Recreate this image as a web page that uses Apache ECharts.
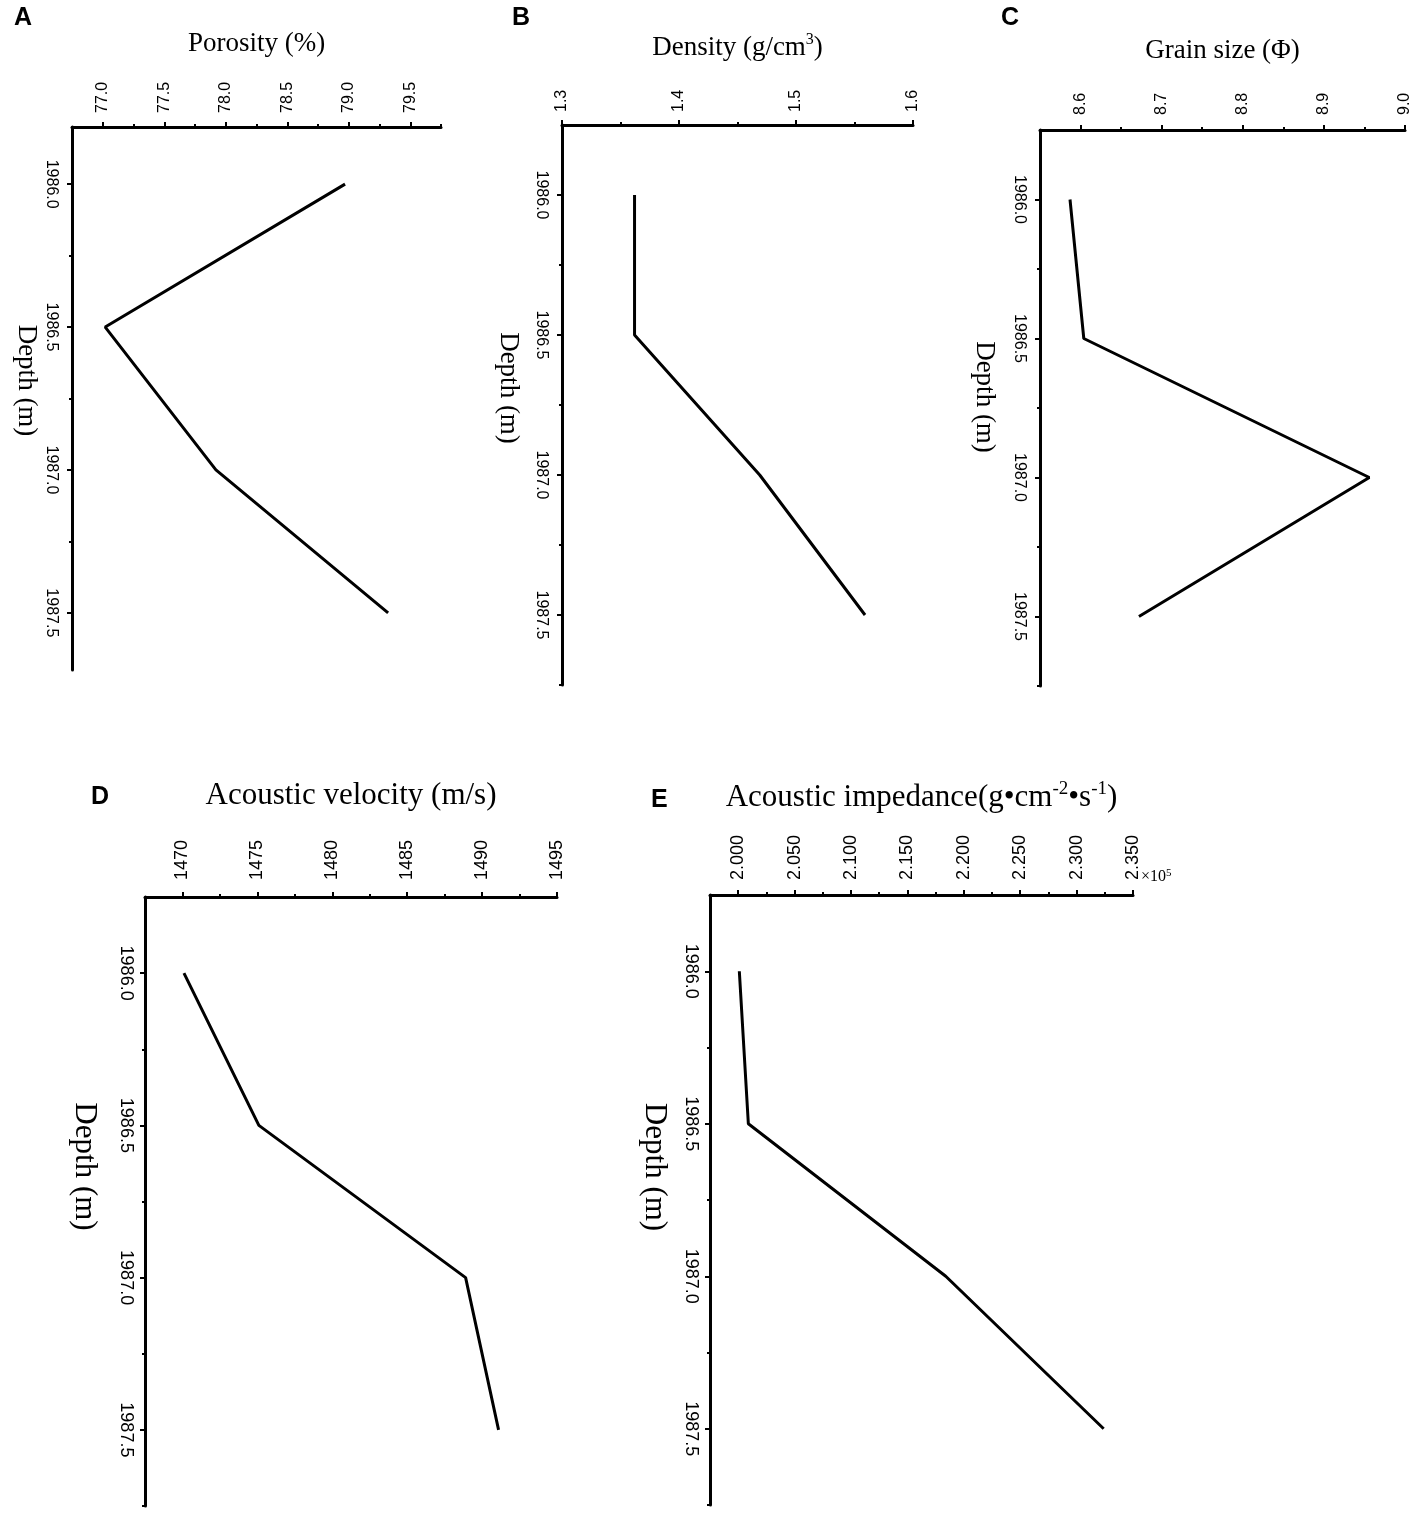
<!DOCTYPE html>
<html>
<head>
<meta charset="utf-8">
<script src="https://cdn.jsdelivr.net/npm/echarts@6/dist/echarts.min.js"></script>
<style>
html,body{margin:0;padding:0;background:#fff;}
#chart{width:1417px;height:1518px;}
</style>
</head>
<body>
<div id="chart"></div>
<script>
// ---- data ----
const depth = [1986.0, 1986.5, 1987.0, 1987.5];
const porosity = [78.97, 77.02, 77.92, 79.32];
const density = [1.362, 1.362, 1.469, 1.559];
const grainSize = [8.587, 8.604, 8.956, 8.672];
const velocity = [1470.1, 1475.1, 1488.9, 1491.1];
const impedance = [2.001, 2.009, 2.184, 2.324];

const depthTicks = [1986.0, 1986.5, 1987.0, 1987.5];
const depthMinorTicksA = [1986.25, 1986.75, 1987.25];
const depthMinorTicks = [1986.25, 1986.75, 1987.25, 1987.75];
const porosityTicks = [77.0, 77.5, 78.0, 78.5, 79.0, 79.5];
const porosityMinor = [77.25, 77.75, 78.25, 78.75, 79.25, 79.75];
const densityTicks = [1.3, 1.4, 1.5, 1.6];
const densityMinor = [1.35, 1.45, 1.55];
const grainTicks = [8.6, 8.7, 8.8, 8.9, 9.0];
const grainMinor = [8.65, 8.75, 8.85, 8.95];
const velocityTicks = [1470, 1475, 1480, 1485, 1490, 1495];
const velocityMinor = [1472.5, 1477.5, 1482.5, 1487.5, 1492.5];
const impedanceTicks = [2.000, 2.050, 2.100, 2.150, 2.200, 2.250, 2.300, 2.350];
const impedanceMinor = [2.025, 2.075, 2.125, 2.175, 2.225, 2.275, 2.325];

const panelLetters = ['A', 'B', 'C', 'D', 'E'];

// ---- layout / style ----
const SANS = 'Liberation Sans, Arial, sans-serif';
const SERIF = 'Liberation Serif, Times New Roman, serif';

const panels = [
  { values: porosity, grid: {left: 72, top: 127, width: 369, height: 543},
    xmin: 76.75, xmax: 79.75, xt: porosityTicks, xm: porosityMinor, dec: 1,
    ymin: 1985.8, ymax: 1987.7, ym: depthMinorTicksA,
    name: 'Porosity (%)', nameGap: 70, nameSize: 27, labelSize: 16, xMargin: 14, yMargin: 13,
    yNameGap: 32, yNameShift: 36, letter: {x: 14, y: 6} },
  { values: density, grid: {left: 562, top: 125, width: 351, height: 560},
    xmin: 1.3, xmax: 1.6, xt: densityTicks, xm: densityMinor, dec: 1,
    ymin: 1985.75, ymax: 1987.75, ym: depthMinorTicks,
    name: '{a|Density (g/cm}{s|3}{a|)}', nameGap: 62, nameSize: 27, labelSize: 16, xMargin: 13, yMargin: 13,
    yNameGap: 40, yNameShift: 34, letter: {x: 512, y: 6} },
  { values: grainSize, grid: {left: 1040, top: 130, width: 365, height: 556},
    xmin: 8.55, xmax: 9.0, xt: grainTicks, xm: grainMinor, dec: 1,
    ymin: 1985.75, ymax: 1987.75, ym: depthMinorTicks,
    name: 'Grain size (\u03A6)', nameGap: 66, nameSize: 27, labelSize: 16, xMargin: 15, yMargin: 13,
    yNameGap: 42, yNameShift: 22, letter: {x: 1001, y: 6} },
  { values: velocity, grid: {left: 145, top: 897, width: 412, height: 609},
    xmin: 1467.5, xmax: 1495, xt: velocityTicks, xm: velocityMinor, dec: 0,
    ymin: 1985.75, ymax: 1987.75, ym: depthMinorTicks,
    name: 'Acoustic velocity (m/s)', nameGap: 86, nameSize: 31, labelSize: 18, xMargin: 17, yMargin: 10,
    yNameGap: 45, yNameShift: 70, letter: {x: 91, y: 785} },
  { values: impedance, grid: {left: 710, top: 895, width: 423, height: 610},
    xmin: 1.975, xmax: 2.35, xt: impedanceTicks, xm: impedanceMinor, dec: 3,
    ymin: 1985.75, ymax: 1987.75, ym: depthMinorTicks,
    name: '{a|Acoustic impedance(g\u2022cm}{s|-2}{a|\u2022s}{s|-1}{a|)}', nameGap: 80, nameSize: 31, labelSize: 18, xMargin: 15, yMargin: 10,
    yNameGap: 40, yNameShift: 66, letter: {x: 651, y: 788} }
];

const grid = [], xAxis = [], yAxis = [], series = [], graphic = [];

panels.forEach((p, i) => {
  grid.push(Object.assign({containLabel: false}, p.grid));
  const lineStyle = {color: '#000', width: 3};
  const tickStyle = {color: '#000', width: 2};
  // main x axis
  xAxis.push({
    gridIndex: i, type: 'value', position: 'top', min: p.xmin, max: p.xmax,
    axisLine: {show: true, onZero: false, lineStyle},
    axisTick: {show: true, customValues: p.xt, length: 5, lineStyle: tickStyle},
    axisLabel: {show: true, customValues: p.xt, rotate: -90, margin: p.xMargin,
      formatter: v => Number(v).toFixed(p.dec),
      fontFamily: SANS, fontSize: p.labelSize, color: '#000'},
    splitLine: {show: false},
    name: p.name, nameLocation: 'middle', nameGap: p.nameGap,
    nameTextStyle: {fontFamily: SERIF, fontSize: p.nameSize, color: '#000',
      rich: {
        a: {fontFamily: SERIF, fontSize: p.nameSize, color: '#000', lineHeight: p.nameSize + 4},
        s: {fontFamily: SERIF, fontSize: Math.round(p.nameSize * 0.6), color: '#000', verticalAlign: 'top', lineHeight: p.nameSize + 4}
      }}
  });
  // minor x ticks
  xAxis.push({
    gridIndex: i, type: 'value', position: 'top', min: p.xmin, max: p.xmax,
    axisLine: {show: false, onZero: false},
    axisTick: {show: true, customValues: p.xm, length: 3, lineStyle: tickStyle},
    axisLabel: {show: false}, splitLine: {show: false}
  });
  // main y axis
  yAxis.push({
    gridIndex: i, type: 'value', position: 'left', inverse: true, min: p.ymin, max: p.ymax,
    axisLine: {show: true, onZero: false, lineStyle},
    axisTick: {show: true, customValues: depthTicks, length: 5, lineStyle: tickStyle},
    axisLabel: {show: true, customValues: depthTicks, rotate: -90, margin: p.yMargin,
      formatter: v => Number(v).toFixed(1),
      fontFamily: SANS, fontSize: p.labelSize, color: '#000'},
    splitLine: {show: false},
    name: 'Depth (m)', nameLocation: 'middle', nameRotate: -90, nameGap: p.yNameGap,
    nameTextStyle: {fontFamily: SERIF, fontSize: p.nameSize, color: '#000',
      padding: [0, p.yNameShift, 0, 0]}
  });
  // minor y ticks
  yAxis.push({
    gridIndex: i, type: 'value', position: 'left', inverse: true, min: p.ymin, max: p.ymax,
    axisLine: {show: false, onZero: false},
    axisTick: {show: true, customValues: p.ym, length: 3, lineStyle: tickStyle},
    axisLabel: {show: false}, splitLine: {show: false}
  });
  series.push({
    type: 'line', xAxisIndex: 2 * i, yAxisIndex: 2 * i,
    data: depth.map((d, k) => [p.values[k], d]),
    symbol: 'none', clip: false,
    lineStyle: {color: '#000', width: 3}
  });
  graphic.push({
    type: 'text', left: p.letter.x, top: p.letter.y,
    style: {text: panelLetters[i], fontFamily: SANS, fontWeight: 'bold', fontSize: 25, fill: '#000'}
  });
});

graphic.push({
  type: 'text', left: 1141, top: 868,
  style: {
    text: '{a|\u00D710}{s|5}',
    rich: {
      a: {fontFamily: SERIF, fontSize: 16, fill: '#000', lineHeight: 18},
      s: {fontFamily: SERIF, fontSize: 11, fill: '#000', verticalAlign: 'top', lineHeight: 18}
    }
  }
});

const chart = echarts.init(document.getElementById('chart'), null, {renderer: 'canvas'});
chart.setOption({
  animation: false,
  backgroundColor: '#fff',
  grid, xAxis, yAxis, series, graphic
});
</script>
</body>
</html>
